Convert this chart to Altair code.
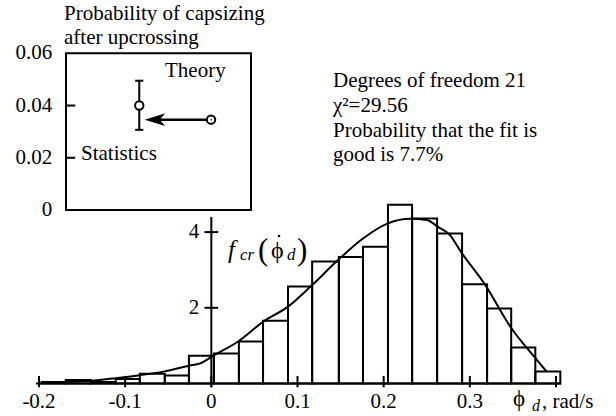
import altair as alt
import pandas as pd

# ---- histogram of the roll rate at capsizing (rad/s) ----
bin_edges = [-0.197, -0.169, -0.140, -0.111, -0.083, -0.054, -0.026, 0.003,
             0.032, 0.060, 0.089, 0.117, 0.148, 0.176, 0.205, 0.233, 0.262,
             0.291, 0.320, 0.348, 0.376, 0.405]
density = [0.04, 0.09, 0.04, 0.12, 0.26, 0.21, 0.73, 0.79, 1.11, 1.66, 2.56,
           3.22, 3.34, 3.61, 4.72, 4.36, 3.96, 2.62, 1.98, 0.95, 0.32]

# ---- fitted theoretical density ----
fit_x = [-0.195, -0.140, -0.111, -0.083, -0.054, -0.026, -0.013, 0.002, 0.031,
         0.060, 0.089, 0.116, 0.147, 0.176, 0.205, 0.231, 0.250, 0.263, 0.277,
         0.289, 0.318, 0.347, 0.378, 0.389]
fit_y = [0.02, 0.07, 0.14, 0.22, 0.32, 0.47, 0.53, 0.73, 1.11, 1.63, 2.03,
         2.58, 3.26, 3.83, 4.23, 4.35, 4.32, 4.14, 3.92, 3.50, 2.60, 1.50,
         0.62, 0.32]

x_ticks = [-0.2, -0.1, 0.0, 0.1, 0.2, 0.3, 0.4]
x_tick_labels = ["-0.2", "-0.1", "0", "0.1", "0.2", "0.3", ""]
y_ticks = [2, 4]
y_tick_labels = ["2", "4"]

# ---- inset: probability of capsizing after upcrossing ----
inset_names = ["Statistics", "Theory"]
inset_pos = [0.396, 0.784]
inset_prob = [0.040, 0.0346]
stat_low, stat_high = 0.0307, 0.0495
inset_ticks = [0.0, 0.02, 0.04, 0.06]
inset_tick_labels = ["0", "0.02", "0.04", "0.06"]

FONT = "Liberation Serif"
INK = "black"

XM = alt.Scale(domain=[-0.2, 0.4], range=[39, 556], nice=False, zero=False)
YM = alt.Scale(domain=[0, 4], range=[383.5, 232.1], nice=False, zero=False)
XI = alt.Scale(domain=[0, 1], range=[66, 251], nice=False, zero=False)
YI = alt.Scale(domain=[0, 0.06], range=[210, 53.3], nice=False, zero=False)

bins = pd.DataFrame({"lo": bin_edges[:-1], "hi": bin_edges[1:], "d": density})
fit = pd.DataFrame({"x": fit_x, "y": fit_y})
xt = pd.DataFrame({"t": x_ticks, "label": x_tick_labels})
yt = pd.DataFrame({"t": y_ticks, "label": y_tick_labels})
inset = pd.DataFrame({"name": inset_names, "pos": inset_pos, "p": inset_prob})
it = pd.DataFrame({"t": inset_ticks, "label": inset_tick_labels})
one = pd.DataFrame({"k": [0]})


def mx(field):
    return alt.X(field, type="quantitative", scale=XM, axis=None)


def my(field):
    return alt.Y(field, type="quantitative", scale=YM, axis=None)


def mxd(v):
    return alt.XDatum(v, type="quantitative", scale=XM, axis=None)


def myd(v):
    return alt.YDatum(v, type="quantitative", scale=YM, axis=None)


def ix(field):
    return alt.X(field, type="quantitative", scale=XI, axis=None)


def iy(field):
    return alt.Y(field, type="quantitative", scale=YI, axis=None)


def ixd(v):
    return alt.XDatum(v, type="quantitative", scale=XI, axis=None)


def iyd(v):
    return alt.YDatum(v, type="quantitative", scale=YI, axis=None)


layers = []

# histogram bars
layers.append(
    alt.Chart(bins).mark_rect(fill="white", fillOpacity=0, stroke=INK, strokeWidth=2)
    .encode(x=mx("lo"), x2="hi", y=my("d"), y2=alt.Y2Datum(0))
)
# fitted density curve
layers.append(
    alt.Chart(fit).mark_line(color=INK, strokeWidth=2, interpolate="monotone")
    .encode(x=mx("x"), y=my("y"))
)
# horizontal axis
layers.append(
    alt.Chart(one).mark_rule(color=INK, strokeWidth=2)
    .encode(x=mxd(-0.2035), x2=alt.X2Datum(0.406), y=myd(0))
)
layers.append(
    alt.Chart(xt).mark_rule(color=INK, strokeWidth=2)
    .encode(x=mx("t"), y=myd(-0.1), y2=alt.Y2Datum(0.2))
)
layers.append(
    alt.Chart(xt).mark_text(font=FONT, fontSize=21, color=INK, align="center", baseline="alphabetic")
    .encode(x=mx("t"), y=alt.value(408), text="label:N")
)
# vertical axis
layers.append(
    alt.Chart(one).mark_rule(color=INK, strokeWidth=2)
    .encode(x=mxd(0), y=myd(-0.1), y2=alt.Y2Datum(4.4))
)
layers.append(
    alt.Chart(yt).mark_rule(color=INK, strokeWidth=2)
    .encode(y=my("t"), x=mxd(-0.008), x2=alt.X2Datum(0.008))
)
layers.append(
    alt.Chart(yt).mark_text(font=FONT, fontSize=21, color=INK, align="right", baseline="middle")
    .encode(y=my("t"), x=mxd(-0.014), text="label:N")
)

# inset frame, ticks and labels
layers.append(
    alt.Chart(one).mark_rect(fillOpacity=0, stroke=INK, strokeWidth=2)
    .encode(x=ixd(0), x2=alt.X2Datum(1), y=iyd(0), y2=alt.Y2Datum(0.06))
)
layers.append(
    alt.Chart(it).transform_filter("datum.t > 0 && datum.t < 0.06")
    .mark_rule(color=INK, strokeWidth=2)
    .encode(y=iy("t"), x=ixd(0), x2=alt.X2Datum(0.05))
)
layers.append(
    alt.Chart(it).mark_text(font=FONT, fontSize=21, color=INK, align="right", baseline="middle")
    .encode(y=iy("t"), x=ixd(-0.075), text="label:N")
)
# error bar of the statistical estimate
stat = inset[inset["name"] == "Statistics"]
layers.append(
    alt.Chart(stat).mark_rule(color=INK, strokeWidth=2)
    .encode(x=ix("pos"), y=iyd(stat_low), y2=alt.Y2Datum(stat_high))
)
caps = pd.DataFrame({"pos": [inset_pos[0]] * 2, "p": [stat_low, stat_high]})
layers.append(
    alt.Chart(caps)
    .transform_calculate(a="datum.pos - 0.022", b="datum.pos + 0.022")
    .mark_rule(color=INK, strokeWidth=2)
    .encode(x=ix("a:Q"), x2="b:Q", y=iy("p"))
)
# arrow from theory to statistics
arrow = pd.DataFrame({"from": [inset_pos[1]], "to": [inset_pos[0]], "p": [inset_prob[1]]})
layers.append(
    alt.Chart(arrow)
    .transform_calculate(a="datum.to + 0.1", b="datum.from - 0.025")
    .mark_rule(color=INK, strokeWidth=2.5)
    .encode(x=ix("a:Q"), x2="b:Q", y=iy("p"))
)
layers.append(
    alt.Chart(arrow)
    .transform_calculate(h="datum.to + 0.085")
    .mark_point(shape="M -1 0 L 1 -0.62 L 0.45 0 L 1 0.62 Z", size=420,
                filled=True, color=INK, opacity=1)
    .encode(x=ix("h:Q"), y=iy("p"))
)
layers.append(
    alt.Chart(inset).mark_point(shape="circle", size=70, filled=True, fill="white",
                                stroke=INK, strokeWidth=2, opacity=1)
    .encode(x=ix("pos"), y=iy("p"))
)
layers.append(
    alt.Chart(inset[inset["name"] == "Theory"]).mark_point(shape="circle", size=3, filled=True,
                                                          color="#2233ff", opacity=1)
    .encode(x=ix("pos"), y=iy("p"))
)


def label(text, x, y, size=21, style="normal", align="left"):
    return (
        alt.Chart(one)
        .mark_text(text=text, font=FONT, fontSize=size, fontStyle=style, color=INK,
                   align=align, baseline="alphabetic")
        .encode(x=alt.value(x), y=alt.value(y))
    )


# inset captions
layers += [
    label("Probability of capsizing", 64, 20),
    label("after upcrossing", 64, 44),
    label("Theory", 165, 77),
    label("Statistics", 81, 160),
]
# goodness-of-fit note
layers += [
    label("Degrees of freedom 21", 333, 87),
    label("\u03c7\u00b2=29.56", 333, 112),
    label("Probability that the fit is", 333, 137),
    label("good is 7.7%", 333, 161),
]
# axis titles: f_cr(phi-dot_d) and phi_d, rad/s
layers += [
    label("f", 228, 258, size=25, style="italic"),
    label("cr", 240, 260, size=17, style="italic"),
    label("(", 258, 260, size=31),
    label("\u03d5", 271, 258, size=24),
    label("d", 287, 260, size=17, style="italic"),
    label(")", 297, 260, size=31),
    label("\u03d5", 513, 406, size=23),
    label("d", 532, 411, size=16, style="italic"),
    label(", rad/s", 542, 408, size=21),
]
# the time-derivative dot over phi
layers.append(
    alt.Chart(one).mark_point(shape="circle", size=7, filled=True, color=INK, opacity=1)
    .encode(x=alt.value(279), y=alt.value(236))
)

chart = (
    alt.layer(*layers)
    .resolve_scale(x="independent", y="independent")
    .properties(width=616, height=416, autosize=alt.AutoSizeParams(type="none"),
                padding=0, background="white")
    .configure_view(stroke=None)
)

chart.save("out.html", embed_options={"renderer": "svg", "actions": False})
